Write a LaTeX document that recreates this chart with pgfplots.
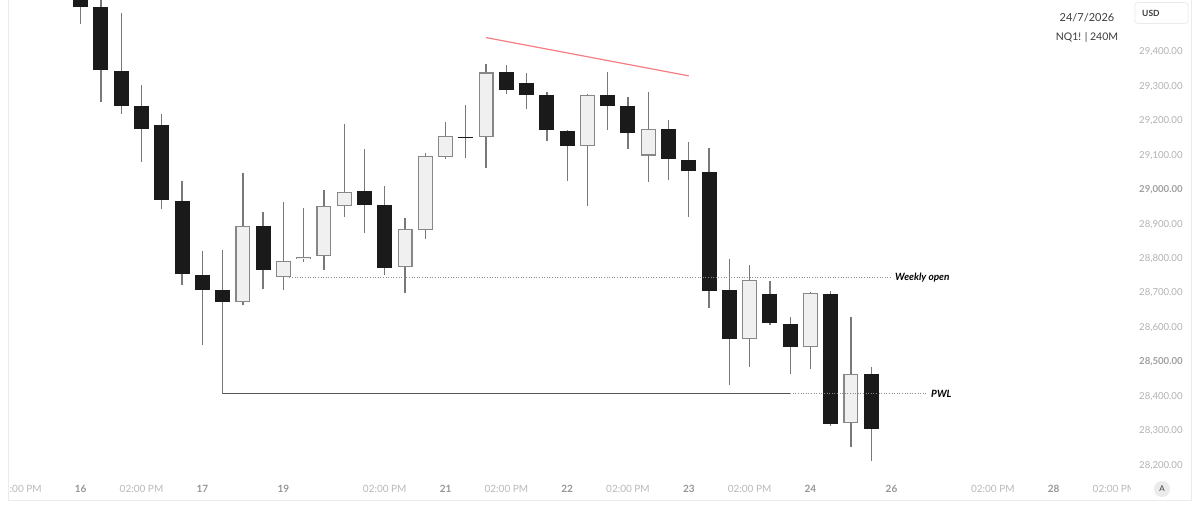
\documentclass[border=0pt]{standalone}
\usepackage{pgfplots}
\pgfplotsset{compat=1.18}
\usepackage{pgfplotstable}
\usepackage{fontspec}
\setmainfont{Lato}

\definecolor{wickc}{RGB}{120,120,120}
\definecolor{bearc}{RGB}{26,26,26}
\definecolor{bullfill}{RGB}{240,240,240}
\definecolor{bullborder}{RGB}{135,135,135}
\definecolor{ylab}{RGB}{178,178,178}
\definecolor{ylabb}{RGB}{160,160,160}
\definecolor{datelab}{RGB}{150,150,150}
\definecolor{timelab}{RGB}{185,185,185}
\definecolor{redline}{RGB}{245,125,132}
\definecolor{pwlc}{RGB}{85,85,85}
\definecolor{dotc}{RGB}{140,140,140}
\definecolor{bordc}{RGB}{235,235,235}
\definecolor{toptext}{RGB}{60,60,60}

% bearish candles: index, open, high, low, close
\pgfplotstableread{
i o h l c
0 29565 29600 29479 29530
1 29529 29580 29255 29346
2 29344 29513 29219 29243
3 29243 29303 29079 29177
4 29188 29219 28945 28970
5 28968 29024 28724 28756
6 28754 28823 28550 28709
7 28709 28825 28408 28675
9 28896 28936 28713 28767
14 28996 29118 28874 28956
15 28956 29010 28752 28774
19 29154 29245 29093 29151
21 29340 29361 29278 29289
22 29309 29337 29233 29275
23 29275 29282 29141 29172
24 29170 29173 29025 29126
26 29275 29340 29173 29243
27 29242 29270 29119 29164
29 29175 29201 29029 29088
30 29087 29137 28922 29055
31 29052 29122 28658 28706
32 28708 28800 28434 28566
34 28698 28735 28608 28614
35 28611 28632 28466 28543
37 28698 28705 28314 28321
39 28466 28486 28213 28305
}\bear

% bullish candles: index, open, high, low, close
\pgfplotstableread{
i o h l c
8 28675 29049 28666 28894
10 28746 28963 28709 28794
11 28798 28948 28789 28806
12 28807 28998 28766 28952
13 28952 29191 28920 28993
16 28776 28919 28701 28885
17 28884 29105 28858 29097
18 29095 29195 29089 29155
20 29153 29363 29064 29340
25 29127 29278 28953 29275
28 29099 29282 29021 29175
33 28568 28781 28487 28738
36 28545 28703 28481 28700
38 28323 28630 28255 28465
}\bull

\begin{document}
\begin{tikzpicture}[x=1pt,y=1pt]
\useasboundingbox (0,0) rectangle (1200,504);
\fill[white] (0,0) rectangle (1200,504);
\begin{axis}[
  at={(8pt,27pt)}, anchor=south west,
  scale only axis, width=1122pt, height=477pt,
  xmin=-3.587, xmax=51.766, ymin=28167, ymax=29550,
  axis line style={draw=none}, tick style={draw=none},
  major tick length=0pt,
  scaled y ticks=false,
  ytick={28200,28300,28400,28600,28700,28800,28900,29100,29200,29300,29400},
  extra y ticks={28500,29000},
  yticklabel pos=right,
  /pgf/number format/.cd, fixed, fixed zerofill, precision=2, 1000 sep={,}, assume math mode=true,
  /pgfplots/.cd,
  yticklabel style={anchor=west, xshift=9pt, inner sep=0pt, text=ylab, font=\fontsize{9.6}{11}\selectfont},
  extra y tick style={yticklabel style={text=ylabb, font=\fontsize{9.6}{11}\selectfont\bfseries}},
  xtick={0,6,10,18,24,30,36,40,48},
  xticklabels={16,17,19,21,22,23,24,26,28},
  xticklabel style={anchor=center, yshift=-12pt, inner sep=0pt, text=datelab, font=\fontsize{10}{12}\selectfont\bfseries},
  extra x ticks={-3,3,15,21,27,33,45,51},
  extra x tick labels={02:00 PM,02:00 PM,02:00 PM,02:00 PM,02:00 PM,02:00 PM,02:00 PM,02:00 PM},
  extra x tick style={xticklabel style={text=timelab, font=\fontsize{10}{12}\selectfont}},
]
% wicks
\addplot[draw=none, mark=none, forget plot,
  error bars/.cd, y dir=minus, y explicit, error mark=none,
  error bar style={draw=wickc, solid, line width=1.3pt}]
  table[x=i, y=h, y error minus expr=\thisrow{h}-\thisrow{l}] {\bear};
\addplot[draw=none, mark=none, forget plot,
  error bars/.cd, y dir=minus, y explicit, error mark=none,
  error bar style={draw=wickc, solid, line width=1.3pt}]
  table[x=i, y=h, y error minus expr=\thisrow{h}-\thisrow{l}] {\bull};
% bearish bodies
\addplot[draw=none, mark=none, forget plot,
  error bars/.cd, y dir=minus, y explicit, error mark=none,
  error bar style={draw=bearc, solid, line width=15pt}]
  table[x=i, y=o, y error minus expr=\thisrow{o}-\thisrow{c}] {\bear};
% bullish bodies: border then fill
\addplot[draw=none, mark=none, forget plot,
  error bars/.cd, y dir=minus, y explicit, error mark=none,
  error bar style={draw=bullborder, solid, line width=15pt}]
  table[x=i, y=c, y error minus expr=\thisrow{c}-\thisrow{o}] {\bull};
\addplot[draw=none, mark=none, forget plot,
  error bars/.cd, y dir=minus, y explicit, error mark=none,
  error bar style={draw=bullfill, solid, line width=12.6pt}]
  table[x=i, y expr=\thisrow{c}-3.2, y error minus expr=\thisrow{c}-\thisrow{o}-6.4] {\bull};
% weekly open
\addplot[dotc, line width=0.8pt, dash pattern=on 1pt off 1.6pt, forget plot] coordinates {(10.3,28746) (40.0,28746)};
% PWL
\addplot[pwlc, line width=1.1pt, forget plot] coordinates {(7,28408) (35.0,28408)};
\addplot[dotc, line width=0.8pt, dash pattern=on 1pt off 1.6pt, forget plot] coordinates {(35.0,28408) (41.7,28408)};
% red trend line
\addplot[redline, line width=1.2pt, forget plot] coordinates {(20,29441) (30,29330)};
\node[anchor=west, inner sep=0pt, font=\fontsize{10}{11}\selectfont\bfseries\itshape] at (axis cs:40.17,28746) {Weekly open};
\node[anchor=west, inner sep=0pt, font=\fontsize{10}{11}\selectfont\bfseries\itshape] at (axis cs:41.95,28408) {PWL};
\end{axis}
% covers for clipped time labels
\fill[white] (0,3) rectangle (7.5,27);
\fill[white] (1131,5) rectangle (1190,27);
% frame
\draw[bordc, line width=1pt] (8,504) -- (8,4) -- (1191,4) -- (1191,504);
% auto-scale button
\fill[black!8] (1162,15) circle (8);
\node[font=\fontsize{8}{9}\selectfont, text=toptext] at (1162,15) {A};
% USD box
\draw[bordc, fill=white, rounded corners=3pt, line width=0.8pt] (1135,480.5) rectangle (1188,501.5);
\node[anchor=west, inner sep=0pt, font=\fontsize{8.5}{10}\selectfont\bfseries, text=toptext] at (1142,491) {USD};
% header text
\node[font=\fontsize{11}{13}\selectfont, text=toptext] at (1087,486.7) {24/7/2026};
\node[font=\fontsize{10.5}{12}\selectfont, text=toptext] at (1087,466.7) {NQ1! | 240M};
\end{tikzpicture}
\end{document}
